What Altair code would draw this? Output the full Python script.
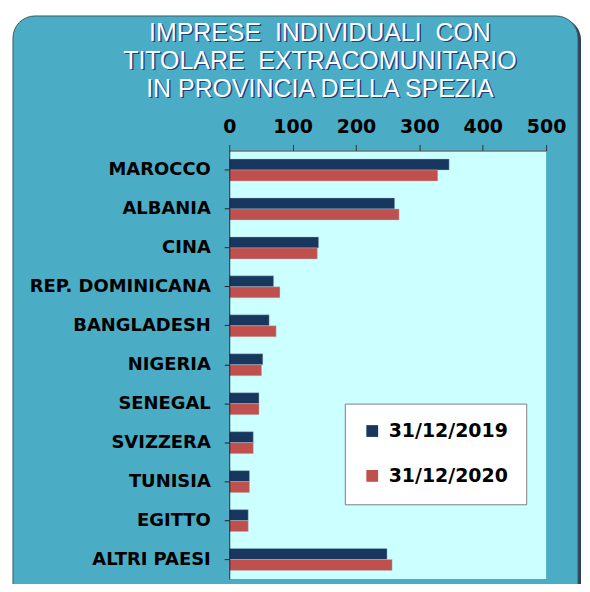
import altair as alt
import pandas as pd

countries = ["MAROCCO", "ALBANIA", "CINA", "REP. DOMINICANA", "BANGLADESH",
             "NIGERIA", "SENEGAL", "SVIZZERA", "TUNISIA", "EGITTO", "ALTRI PAESI"]
series = ["31/12/2019", "31/12/2020"]
v2019 = [347, 261, 141, 70, 63, 53, 47, 38, 32, 30, 249]
v2020 = [329, 268, 139, 80, 74, 51, 47, 38, 32, 30, 257]
NB = "\u00a0"
title_lines = [f"IMPRESE {NB}INDIVIDUALI {NB}CON",
               f"TITOLARE {NB}EXTRACOMUNITARIO",
               "IN PROVINCIA DELLA SPEZIA"]
x_ticks = [0, 100, 200, 300, 400, 500]

rows = []
for c, a, b in zip(countries, v2019, v2020):
    rows.append({"paese": c, "serie": series[0], "valore": a})
    rows.append({"paese": c, "serie": series[1], "valore": b})
df = pd.DataFrame(rows)

W, H = 318, 430
one = alt.Data(values=[{"k": 1}])

shadow = alt.Chart(one).mark_rect(cornerRadius=22, color="#2a4654").encode(
    x=alt.value(-214), x2=alt.value(353), y=alt.value(-133), y2=alt.value(470))
panel = alt.Chart(one).mark_rect(cornerRadius=22, color="#4BACC6",
                                 stroke="#3a5a66", strokeWidth=1).encode(
    x=alt.value(-217), x2=alt.value(350), y=alt.value(-135), y2=alt.value(470))
plotbg = alt.Chart(one).mark_rect(color="#CCFFFF").encode(
    x=alt.value(0), x2=alt.value(W), y=alt.value(0), y2=alt.value(H))

title_shadow = alt.Chart(one).mark_text(
    font="Liberation Sans", fontSize=25, lineHeight=28, align="center",
    baseline="alphabetic", color="#1F3F7D", dx=1.5, dy=1.2).encode(
    x=alt.value(91), y=alt.value(-110), text=alt.value(title_lines))
title_text = alt.Chart(one).mark_text(
    font="Liberation Sans", fontSize=25, lineHeight=28, align="center",
    baseline="alphabetic", color="white").encode(
    x=alt.value(91), y=alt.value(-110), text=alt.value(title_lines))

bars = alt.Chart(df).mark_bar(stroke="#a8c4d4", strokeWidth=0.4).encode(
    x=alt.X("valore:Q", scale=alt.Scale(domain=[0, 500], nice=False),
            axis=alt.Axis(orient="top", values=x_ticks, title=None, grid=False,
                          labelFont="DejaVu Sans", labelFontSize=19,
                          labelFontWeight="bold", labelColor="black",
                          labelFlush=False, labelOverlap=False,
                          labelPadding=8, tickSize=6, tickColor="#333333",
                          domainColor="#333333", zindex=1)),
    y=alt.Y("paese:N", sort=countries,
            scale=alt.Scale(paddingInner=0.436, paddingOuter=0.218),
            axis=alt.Axis(title=None, labelFont="DejaVu Sans", labelFontSize=18,
                          labelFontWeight="bold", labelColor="black", labelLimit=0,
                          labelPadding=14, tickSize=5, tickColor="#222222",
                          domainColor="#222222", zindex=1)),
    yOffset=alt.YOffset("serie:N", sort=series),
    color=alt.Color("serie:N", sort=series,
                    scale=alt.Scale(domain=series, range=["#17375E", "#C0504D"]),
                    legend=alt.Legend(title=None, orient="none", legendX=116, legendY=254,
                                      fillColor="white", strokeColor="#7f7f7f",
                                      padding=18, symbolType="square", symbolSize=140,
                                      symbolStrokeWidth=0, labelFont="DejaVu Sans",
                                      labelFontSize=19, labelFontWeight="bold",
                                      labelColor="black", rowPadding=25,
                                      labelOffset=7)),
)

chart = alt.layer(shadow, panel, plotbg, title_shadow, title_text, bars).properties(
    width=W, height=H,
    autosize=alt.AutoSizeParams(type="none"),
    padding={"left": 222, "top": 142, "right": 36, "bottom": 4},
    background="white",
).configure_view(stroke=None)

chart.save("out.html", embed_options={"renderer": "svg", "actions": False})
